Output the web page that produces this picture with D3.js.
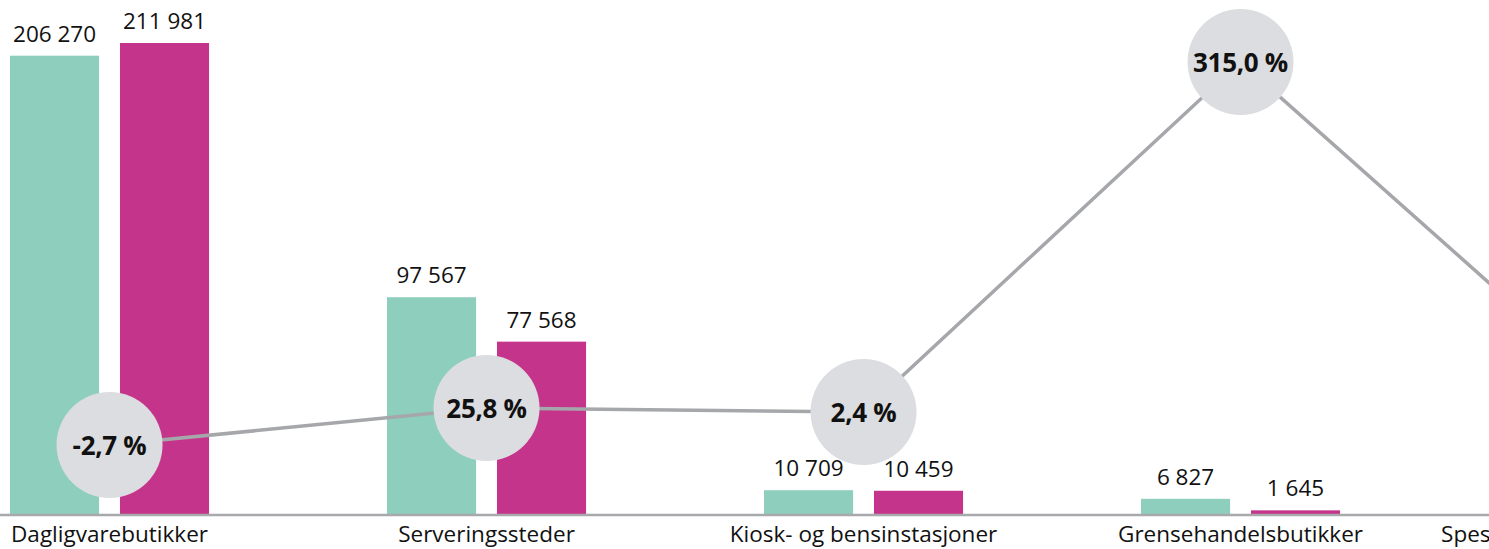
<!DOCTYPE html>
<html>
<head>
<meta charset="utf-8">
<script src="https://cdn.jsdelivr.net/npm/d3@7"></script>
<style>
  body { margin: 0; background: #fff; overflow: hidden; }
  text { font-family: "Open Sans", sans-serif; }
</style>
</head>
<body>
<script>
// data
var categories = ['Dagligvarebutikker', 'Serveringssteder', 'Kiosk- og bensinstasjoner', 'Grensehandelsbutikker', 'Spesialforretninger og netthandel'];
var series = ['a', 'b'];
var valuesA = [206270, 97567, 10709, 6827, 0];
var valuesB = [211981, 77568, 10459, 1645, 0];
var change = [-2.7, 25.8, 2.4, 315.0, 35.0];
var changeLabels = ['-2,7 %', '25,8 %', '2,4 %', '315,0 %', '35,0 %'];

var W = 1489, H = 549;
var colors = {a: '#8ecebc', b: '#c4348a'};

var svg = d3.select('body').append('svg')
    .attr('width', W)
    .attr('height', H);

var x = d3.scaleBand()
    .domain(categories)
    .range([10, 10 + 377 * (5 - 0.472)])
    .paddingInner(0.472)
    .paddingOuter(0)
    .align(0);

var xs = d3.scaleBand()
    .domain(series)
    .range([0, x.bandwidth()])
    .paddingInner(0.19);

var y = d3.scaleLinear()
    .domain([0, d3.max(valuesB)])
    .range([514, 43]);

// change line uses its own (broken) scale
var yc = d3.scaleLinear()
    .domain([-2.7, 2.4, 25.8, 315])
    .range([445, 412, 408, 62]);

// bars
var rows = categories.map(function(c, i) {
    return [{cat: c, key: 'a', v: valuesA[i]}, {cat: c, key: 'b', v: valuesB[i]}];
});

var g = svg.selectAll('g.cat')
    .data(rows)
    .enter().append('g')
    .attr('class', 'cat')
    .attr('transform', function(d) { return 'translate(' + x(d[0].cat) + ',0)'; });

g.selectAll('rect')
    .data(function(d) { return d.filter(function(e) { return e.v > 0; }); })
    .enter().append('rect')
    .attr('x', function(d) { return xs(d.key); })
    .attr('y', function(d) { return y(d.v); })
    .attr('width', xs.bandwidth())
    .attr('height', function(d) { return y(0) - y(d.v); })
    .attr('fill', function(d) { return colors[d.key]; });

g.selectAll('text.val')
    .data(function(d) { return d.filter(function(e) { return e.v > 0; }); })
    .enter().append('text')
    .attr('class', 'val')
    .attr('x', function(d) { return xs(d.key) + xs.bandwidth() / 2; })
    .attr('y', function(d) { return y(d.v) - 14; })
    .attr('text-anchor', 'middle')
    .attr('font-size', 22.5)
    .attr('fill', '#111')
    .text(function(d) { return d3.format(',')(d.v).replace(/,/g, ' '); });

// baseline
svg.append('line')
    .attr('x1', 0).attr('x2', W)
    .attr('y1', y(0) + 1).attr('y2', y(0) + 1)
    .attr('stroke', '#a7a9ac')
    .attr('stroke-width', 2.5);

// category labels
svg.selectAll('text.cat')
    .data(categories)
    .enter().append('text')
    .attr('class', 'cat')
    .attr('x', function(d) { return x(d) + x.bandwidth() / 2; })
    .attr('y', 542)
    .attr('text-anchor', 'middle')
    .attr('font-size', 22.5)
    .attr('fill', '#111')
    .text(function(d) { return d; });

// change line + circles
var cx = function(d, i) { return x(categories[i]) + x.bandwidth() / 2; };

var line = d3.line()
    .x(function(d, i) { return cx(d, i); })
    .y(function(d) { return yc(d); });

svg.append('path')
    .datum(change)
    .attr('d', line)
    .attr('fill', 'none')
    .attr('stroke', '#a6a7ab')
    .attr('stroke-width', 3.5);

svg.selectAll('circle.chg')
    .data(change)
    .enter().append('circle')
    .attr('class', 'chg')
    .attr('cx', cx)
    .attr('cy', function(d) { return yc(d); })
    .attr('r', 53)
    .attr('fill', '#dcdde0');

svg.selectAll('text.chg')
    .data(change)
    .enter().append('text')
    .attr('class', 'chg')
    .attr('x', cx)
    .attr('y', function(d) { return yc(d) + 9.5; })
    .attr('text-anchor', 'middle')
    .attr('font-size', 26)
    .attr('font-weight', 'bold')
    .attr('letter-spacing', -0.3)
    .attr('fill', '#111')
    .text(function(d, i) { return changeLabels[i]; });
</script>
</body>
</html>
